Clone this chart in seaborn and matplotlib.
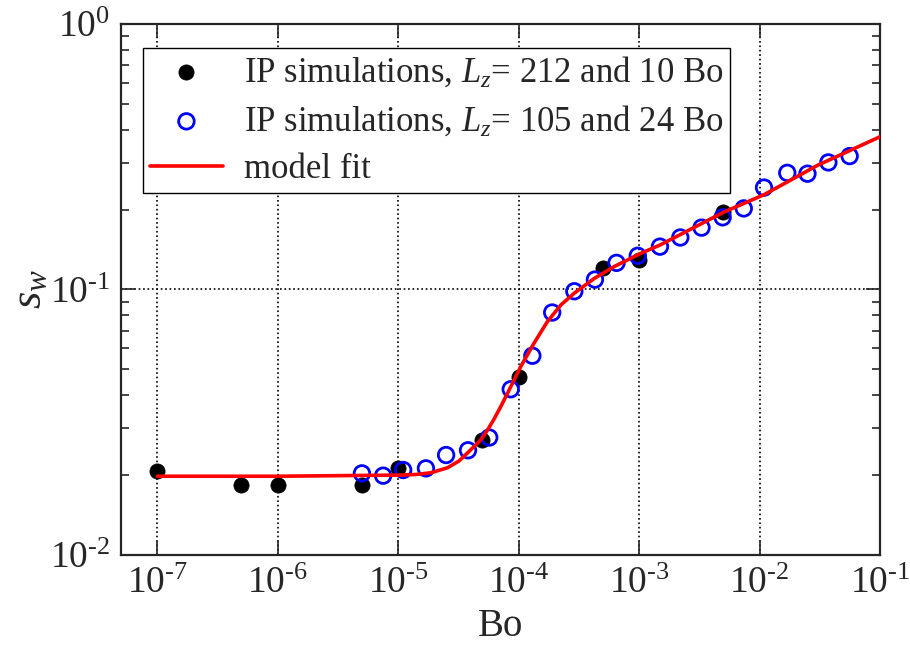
import matplotlib
matplotlib.use('Agg')
import matplotlib.pyplot as plt
from matplotlib.ticker import FuncFormatter
import numpy as np
import pandas as pd
import seaborn as sns

# IP simulations, Lz = 212 and 10 Bo (filled black)
bo_212 = [1e-7, 5e-7, 1e-6, 5e-6, 1e-5, 5e-5, 1e-4, 5e-4, 1e-3, 5e-3]
sw_212 = [0.0207, 0.0184, 0.0184, 0.0183, 0.0212, 0.0271, 0.0467, 0.120, 0.129, 0.195]

# IP simulations, Lz = 105 and 24 Bo (open blue)
bo_105 = [5.0e-6, 7.5e-6, 1.1e-5, 1.7e-5, 2.5e-5, 3.8e-5, 5.7e-5, 8.6e-5,
          1.3e-4, 1.9e-4, 2.9e-4, 4.3e-4, 6.5e-4, 9.75e-4, 1.49e-3, 2.2e-3,
          3.3e-3, 4.94e-3, 7.4e-3, 1.09e-2, 1.7e-2, 2.5e-2, 3.73e-2, 5.6e-2]
sw_105 = [0.0203, 0.0199, 0.0209, 0.0212, 0.0238, 0.0248, 0.0277, 0.0421,
          0.0563, 0.0819, 0.0985, 0.109, 0.126, 0.134, 0.145, 0.157,
          0.171, 0.187, 0.202, 0.242, 0.275, 0.273, 0.301, 0.318]

# model fit curve
bo_fit = [1e-7, 1e-6, 1e-5, 1.4e-5, 1.86e-5, 2.56e-5, 3.2e-5, 3.75e-5, 4.84e-5,
          5.5e-5, 6.25e-5, 7.1e-5, 8.07e-5, 9.2e-5, 1.04e-4, 1.34e-4, 1.73e-4,
          2.24e-4, 2.89e-4, 4.24e-4, 6.21e-4, 1.04e-3, 1.49e-3, 5.1e-3, 1.1e-2,
          3.05e-2, 1e-1]
sw_fit = [0.0198, 0.0198, 0.0200, 0.0201, 0.0204, 0.0213, 0.0226, 0.0242, 0.0271,
          0.0295, 0.0325, 0.0362, 0.0406, 0.0458, 0.0512, 0.0627, 0.0756,
          0.0874, 0.0968, 0.110, 0.122, 0.137, 0.147, 0.196, 0.228,
          0.294, 0.376]

sns.set_style('ticks')
plt.rcParams['font.family'] = ['Liberation Serif', 'DejaVu Serif']
plt.rcParams['mathtext.fontset'] = 'custom'
plt.rcParams['mathtext.rm'] = 'Liberation Serif'
plt.rcParams['mathtext.it'] = 'Liberation Serif:italic'


def pow10(v, pos):
    e = int(round(np.log10(v)))
    if e < 0:
        return r'$10^{\text{-%d}}$' % (-e)
    return r'$10^{%d}$' % e


fig = plt.figure(figsize=(9.1, 6.48), dpi=100)
ax = fig.add_axes([0.133, 0.1435, 0.834, 0.8195])

df1 = pd.DataFrame({'Bo': bo_212, 'sw': sw_212})
df2 = pd.DataFrame({'Bo': bo_105, 'sw': sw_105})
dfit = pd.DataFrame({'Bo': bo_fit, 'sw': sw_fit})

sns.scatterplot(data=df1, x='Bo', y='sw', ax=ax, color='black', s=120,
                edgecolor='black', linewidth=0.5, zorder=3,
                label=r'IP simulations, $L_z$= 212 and 10 Bo')
sns.scatterplot(data=df2, x='Bo', y='sw', ax=ax, facecolor='none', s=125,
                edgecolor='blue', linewidth=2.0, zorder=4,
                label=r'IP simulations, $L_z$= 105 and 24 Bo')
sns.lineplot(data=dfit, x='Bo', y='sw', ax=ax, color='red', lw=2.6, sort=False,
             zorder=5, label='model fit')

ax.set_xscale('log')
ax.set_yscale('log')
ax.set_xlim(5e-8, 1e-1)
ax.set_ylim(1e-2, 1e0)
ax.set_xticks([1e-7, 1e-6, 1e-5, 1e-4, 1e-3, 1e-2, 1e-1])
ax.set_yticks([1e-2, 1e-1, 1e0])
ax.xaxis.set_major_formatter(FuncFormatter(pow10))
ax.yaxis.set_major_formatter(FuncFormatter(pow10))

ax.grid(True, which='major', ls=':', color='black', lw=1.2)
ax.tick_params(which='both', direction='in', top=True, right=True, width=1.2)
ax.tick_params(which='major', length=10, labelsize=27, pad=8)
ax.tick_params(which='minor', length=6)
for sp in ax.spines.values():
    sp.set_linewidth(1.6)

ax.set_xlabel('Bo', fontsize=28)
ax.set_ylabel(r'$s_w$', fontsize=32)
ax.xaxis.label.set_va('baseline')
ax.xaxis.set_label_coords(0.5, -0.153)
ax.yaxis.set_label_coords(-0.094, 0.5)

leg = ax.legend(loc='upper left', bbox_to_anchor=(0.029, 0.955), borderaxespad=0,
                fontsize=25, frameon=True, fancybox=False, handlelength=2.1,
                handletextpad=0.6, labelspacing=0.42, borderpad=0.2)
leg.get_frame().set_edgecolor('black')
leg.get_frame().set_linewidth(1.0)
leg.get_frame().set_alpha(1)

fig.savefig('out.png', dpi=100)
